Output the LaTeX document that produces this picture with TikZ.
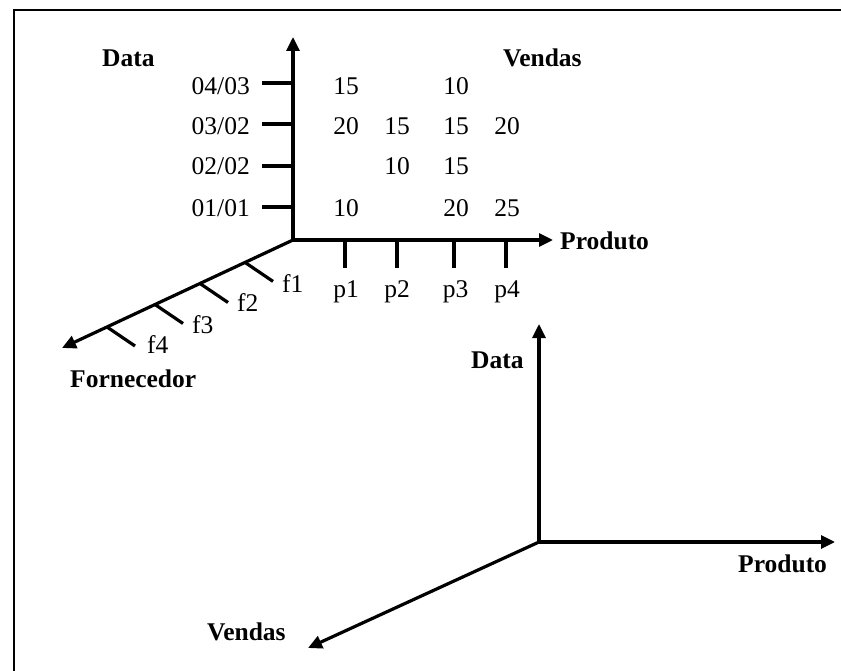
\documentclass[tikz,border=0pt]{standalone}
\usepackage{fontspec}
\setmainfont{Liberation Serif}
\usetikzlibrary{arrows.meta}
\begin{document}
\begin{tikzpicture}[x=1pt,y=-1pt,
  axis/.style={line width=3.2pt,-{Triangle[length=14pt,width=13pt]}},
  tickline/.style={line width=3.2pt},
  lbl/.style={inner sep=0pt,font=\fontsize{25.5}{30}\selectfont},
  blbl/.style={inner sep=0pt,font=\fontsize{25.5}{30}\selectfont\bfseries},
  frameline/.style={line width=2.6pt}]
\useasboundingbox (0,0) rectangle (841,671);
% frame (top and left edges)
\coordinate (fa) at (14,671);
\coordinate (fb) at (14,10);
\coordinate (fc) at (841,10);
\draw[frameline] (fa) -- (fb) -- (fc);

% ---------- upper cube view ----------
\coordinate (O1) at (293,240);
\coordinate (Y1) at (293,37);
\coordinate (X1) at (553,240);
\coordinate (Z1) at (62,348);
\draw[axis] (O1) -- (Y1);
\draw[axis] (O1) -- (X1);
\draw[axis] (O1) -- (Z1);

% date ticks and labels
\foreach \y [count=\i] in {83,124,166,207} {
  \coordinate (ya\i) at (262,\y);
  \coordinate (yb\i) at (293,\y);
  \draw[tickline] (ya\i) -- (yb\i);
}
\node[lbl,anchor=base east] (d4) at (250,95) {04/03};
\node[lbl,anchor=base east] (d3) at (250,135) {03/02};
\node[lbl,anchor=base east] (d2) at (250,175) {02/02};
\node[lbl,anchor=base east] (d1) at (250,216.5) {01/01};

% product ticks and labels
\foreach \x [count=\i] in {345,397,454,506} {
  \coordinate (xa\i) at (\x,240);
  \coordinate (xb\i) at (\x,268);
  \draw[tickline] (xa\i) -- (xb\i);
}
\node[lbl,anchor=base] (p1) at (346,298) {p1};
\node[lbl,anchor=base] (p2) at (397,298) {p2};
\node[lbl,anchor=base] (p3) at (455.5,298) {p3};
\node[lbl,anchor=base] (p4) at (507,298) {p4};

% supplier ticks and labels
\foreach \x/\y [count=\i] in {245/262.4,200/283.5,155/304.5,107/327} {
  \coordinate (za\i) at (\x,\y);
  \coordinate (zb\i) at (\x+28,\y+19);
  \draw[tickline] (za\i) -- (zb\i);
}
\node[lbl,anchor=base west] (f1) at (282,292) {f1};
\node[lbl,anchor=base west] (f2) at (237,312) {f2};
\node[lbl,anchor=base west] (f3) at (192,333) {f3};
\node[lbl,anchor=base west] (f4) at (147,353.5) {f4};

% sales values
\node[lbl,anchor=base] (v41) at (346,95) {15};
\node[lbl,anchor=base] (v43) at (456,95) {10};
\node[lbl,anchor=base] (v31) at (346,135) {20};
\node[lbl,anchor=base] (v32) at (397,135) {15};
\node[lbl,anchor=base] (v33) at (456,135) {15};
\node[lbl,anchor=base] (v34) at (507,135) {20};
\node[lbl,anchor=base] (v22) at (397,175) {10};
\node[lbl,anchor=base] (v23) at (456,175) {15};
\node[lbl,anchor=base] (v11) at (346,216.5) {10};
\node[lbl,anchor=base] (v13) at (456,216.5) {20};
\node[lbl,anchor=base] (v14) at (507,216.5) {25};

% axis titles
\node[blbl,anchor=base west] (tData) at (102,67) {Data};
\node[blbl,anchor=base west] (tVendas) at (503,67) {Vendas};
\node[blbl,anchor=base west] (tProduto) at (560,250) {Produto};
\node[blbl,anchor=base west] (tForn) at (70,387) {Fornecedor};

% ---------- lower axes ----------
\coordinate (O2) at (539,542);
\coordinate (Y2) at (539,324);
\coordinate (X2) at (835,542);
\coordinate (Z2) at (308,648);
\draw[axis] (O2) -- (Y2);
\draw[axis] (O2) -- (X2);
\draw[axis] (O2) -- (Z2);
\node[blbl,anchor=base west] (bData) at (471,368) {Data};
\node[blbl,anchor=base west] (bProduto) at (738,572) {Produto};
\node[blbl,anchor=base west] (bVendas) at (207,640) {Vendas};
\end{tikzpicture}
\end{document}
